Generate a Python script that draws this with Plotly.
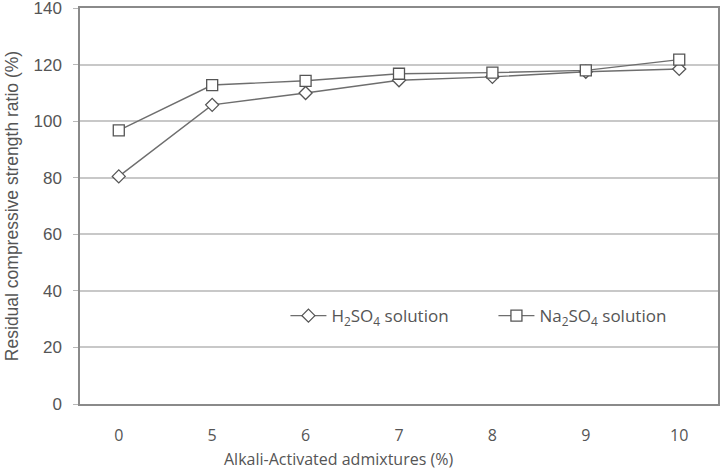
import plotly.graph_objects as go

categories = ["0", "5", "6", "7", "8", "9", "10"]
h2so4 = [80.5, 105.8, 110.0, 114.5, 115.7, 117.5, 118.5]
na2so4 = [96.8, 112.8, 114.3, 116.8, 117.2, 118.0, 121.8]
y_ticks = [0, 20, 40, 60, 80, 100, 120, 140]

line_col = "#6e6e6e"
fig = go.Figure()
fig.add_trace(go.Scatter(
    x=categories, y=h2so4, mode="lines+markers",
    name="H<sub>2</sub>SO<sub>4</sub> solution",
    line=dict(color=line_col, width=1.4),
    marker=dict(symbol="diamond", size=10, color="white",
                line=dict(width=1.3, color="#555555")),
))
fig.add_trace(go.Scatter(
    x=categories, y=na2so4, mode="lines+markers",
    name="Na<sub>2</sub>SO<sub>4</sub> solution",
    line=dict(color=line_col, width=1.4),
    marker=dict(symbol="square", size=11, color="white",
                line=dict(width=1.3, color="#555555")),
))

fig.update_layout(
    width=728, height=471,
    margin=dict(l=80, r=10, t=8, b=67),
    paper_bgcolor="white", plot_bgcolor="white",
    font=dict(family="Liberation Sans, Arial", color="#444444"),
    showlegend=True,
    legend=dict(
        orientation="h", x=0.322, y=0.222, xanchor="left", yanchor="middle",
        bgcolor="white", font=dict(family="Open Sans", size=17, color="#555555"),
        itemwidth=36, entrywidth=157, tracegroupgap=0,
    ),
    xaxis=dict(
        type="category", showgrid=False, showline=True, mirror=True,
        linecolor="#8a8a8a", linewidth=1.5, ticks="", automargin=False,
        tickfont=dict(family="Open Sans", size=16, color="#555555"),
        ticklabelstandoff=16,
    ),
    yaxis=dict(
        range=[0, 140.05], tickvals=y_ticks, ticktext=[str(v) for v in y_ticks],
        showgrid=True, gridcolor="#c8c8c8",
        gridwidth=1.5, showline=True, mirror=True, linecolor="#8a8a8a", linewidth=1.5,
        ticks="outside", ticklen=5, tickcolor="#b8b8b8", automargin=False,
        ticklabelstandoff=8, ticklabeloverflow="allow",
        tickfont=dict(family="Liberation Sans, Arial", size=17, color="#555555"),
        title=dict(text="Residual compressive strength ratio (%)",
                   font=dict(family="Liberation Sans, Arial", size=17.5, color="#555555"),
                   standoff=10),
        zeroline=False,
    ),
)
fig.add_annotation(
    text="Alkali-Activated admixtures (%)", xref="paper", yref="paper",
    x=(338 - 80) / 638, y=-0.105, xanchor="center", yanchor="top", showarrow=False,
    font=dict(family="Open Sans", size=16, color="#555555"),
)
fig.write_html("out.html")
